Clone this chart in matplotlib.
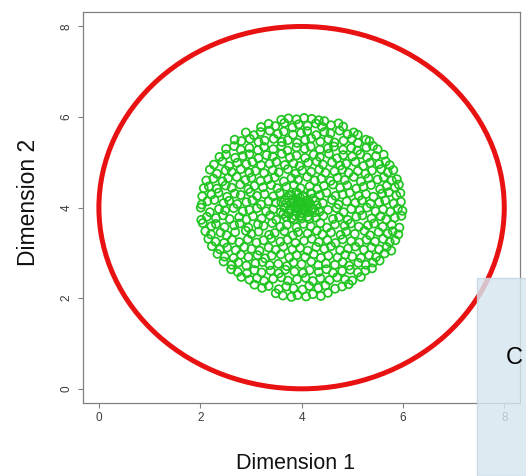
import matplotlib
matplotlib.use("Agg")
import matplotlib.pyplot as plt
from matplotlib.patches import Circle, Rectangle

# outer class: points lying on a circle
ring_center = (4.0, 4.0)
ring_radius = 4.0

# inner class: points filling a disc
green_pts = [
    (3.49, 2.11), (3.63, 2.06), (3.80, 2.03), (3.92, 2.07), (4.09, 2.04), (4.22, 2.09), (4.38, 2.05), (4.52, 2.12),
    (3.07, 2.30), (3.22, 2.23), (3.35, 2.27), (3.55, 2.20), (3.70, 2.26), (3.84, 2.22), (4.02, 2.19), (4.15, 2.27),
    (4.33, 2.23), (4.47, 2.28), (4.66, 2.21), (4.80, 2.26), (4.93, 2.31),
    (2.81, 2.47), (2.97, 2.41), (3.12, 2.44), (3.26, 2.38), (3.44, 2.43), (3.60, 2.46), (3.73, 2.39), (3.91, 2.42),
    (4.08, 2.45), (4.22, 2.38), (4.37, 2.44), (4.55, 2.40), (4.70, 2.46), (4.86, 2.41), (5.00, 2.39), (5.17, 2.47),
    (2.61, 2.64), (2.74, 2.58), (2.92, 2.55), (3.07, 2.62), (3.21, 2.57), (3.39, 2.61), (3.55, 2.55), (3.68, 2.63),
    (3.86, 2.59), (4.03, 2.56), (4.16, 2.62), (4.34, 2.58), (4.49, 2.64), (4.62, 2.56), (4.80, 2.60), (4.96, 2.63),
    (5.11, 2.57), (5.26, 2.61), (5.39, 2.66),
    (2.46, 2.81), (2.62, 2.74), (2.75, 2.79), (2.91, 2.72), (3.09, 2.77), (3.23, 2.80), (3.37, 2.73), (3.54, 2.76),
    (3.71, 2.71), (3.84, 2.79), (4.00, 2.75), (4.19, 2.81), (4.33, 2.73), (4.48, 2.77), (4.66, 2.74), (4.81, 2.80),
    (4.94, 2.72), (5.12, 2.78), (5.27, 2.74), (5.41, 2.79), (5.54, 2.83),
    (2.34, 2.98), (2.48, 2.92), (2.66, 2.89), (2.80, 2.96), (2.95, 2.91), (3.13, 2.95), (3.28, 2.88), (3.41, 2.94),
    (3.59, 2.97), (3.76, 2.90), (3.90, 2.95), (4.07, 2.91), (4.24, 2.97), (4.38, 2.89), (4.53, 2.94), (4.71, 2.90),
    (4.86, 2.96), (5.00, 2.92), (5.17, 2.89), (5.33, 2.95), (5.47, 2.91), (5.64, 2.99),
    (2.23, 3.15), (2.39, 3.08), (2.53, 3.12), (2.70, 3.06), (2.87, 3.13), (3.01, 3.09), (3.17, 3.05), (3.35, 3.12),
    (3.49, 3.07), (3.64, 3.14), (3.82, 3.08), (3.97, 3.11), (4.12, 3.05), (4.29, 3.13), (4.45, 3.09), (4.58, 3.15),
    (4.76, 3.06), (4.92, 3.10), (5.06, 3.14), (5.23, 3.07), (5.38, 3.12), (5.53, 3.08), (5.68, 3.13), (5.77, 3.05),
    (2.16, 3.31), (2.30, 3.25), (2.47, 3.22), (2.63, 3.29), (2.77, 3.24), (2.94, 3.30), (3.11, 3.23), (3.25, 3.28),
    (3.40, 3.32), (3.58, 3.25), (3.72, 3.29), (3.88, 3.22), (4.05, 3.27), (4.20, 3.31), (4.34, 3.24), (4.51, 3.28),
    (4.67, 3.22), (4.81, 3.30), (4.98, 3.26), (5.14, 3.23), (5.28, 3.29), (5.45, 3.25), (5.61, 3.31), (5.74, 3.24),
    (5.85, 3.28),
    (2.10, 3.48), (2.21, 3.41), (2.40, 3.45), (2.52, 3.39), (2.69, 3.46), (2.90, 3.49), (3.01, 3.42), (3.15, 3.47),
    (3.36, 3.40), (3.47, 3.44), (3.66, 3.48), (3.83, 3.39), (3.93, 3.46), (4.12, 3.43), (4.30, 3.49), (4.41, 3.41),
    (4.58, 3.45), (4.77, 3.40), (4.88, 3.47), (5.05, 3.42), (5.24, 3.49), (5.35, 3.39), (5.52, 3.46), (5.70, 3.43),
    (5.80, 3.48), (5.91, 3.41),
    (2.05, 3.66), (2.22, 3.59), (2.31, 3.64), (2.48, 3.57), (2.67, 3.61), (2.78, 3.65), (2.95, 3.56), (3.14, 3.63),
    (3.25, 3.60), (3.42, 3.66), (3.58, 3.58), (3.71, 3.62), (3.90, 3.57), (4.04, 3.64), (4.18, 3.59), (4.37, 3.66),
    (4.50, 3.56), (4.66, 3.63), (4.85, 3.60), (4.97, 3.65), (5.13, 3.58), (5.31, 3.61), (5.43, 3.65), (5.60, 3.58),
    (5.78, 3.62), (5.93, 3.56),
    (2.02, 3.73), (2.13, 3.80), (2.31, 3.77), (2.45, 3.83), (2.58, 3.75), (2.77, 3.79), (2.91, 3.74), (3.04, 3.81),
    (3.21, 3.76), (3.38, 3.83), (3.50, 3.73), (3.69, 3.80), (3.81, 3.77), (3.97, 3.82), (4.15, 3.75), (4.28, 3.78),
    (4.43, 3.82), (4.62, 3.75), (4.74, 3.79), (4.91, 3.73), (5.08, 3.80), (5.20, 3.83), (5.38, 3.76), (5.56, 3.81),
    (5.67, 3.74), (5.84, 3.78), (5.97, 3.82),
    (2.01, 4.00), (2.19, 3.90), (2.37, 3.97), (2.49, 3.94), (2.66, 3.99), (2.84, 3.92), (2.97, 3.95), (3.12, 3.99),
    (3.30, 3.92), (3.44, 3.96), (3.59, 3.90), (3.77, 3.97), (3.89, 4.00), (4.06, 3.93), (4.23, 3.98), (4.35, 3.91),
    (4.52, 3.95), (4.69, 3.99), (4.83, 3.90), (4.98, 3.97), (5.15, 3.94), (5.29, 4.00), (5.46, 3.92), (5.61, 3.96),
    (5.75, 3.91), (5.90, 3.98), (5.99, 3.93),
    (2.03, 4.07), (2.14, 4.14), (2.28, 4.17), (2.46, 4.10), (2.57, 4.15), (2.73, 4.08), (2.91, 4.12), (3.03, 4.16),
    (3.20, 4.07), (3.35, 4.14), (3.49, 4.11), (3.67, 4.17), (3.80, 4.09), (3.95, 4.13), (4.14, 4.08), (4.27, 4.15),
    (4.42, 4.10), (4.60, 4.17), (4.73, 4.07), (4.89, 4.14), (5.06, 4.11), (5.19, 4.16), (5.36, 4.09), (5.53, 4.12),
    (5.65, 4.16), (5.82, 4.09), (5.96, 4.13),
    (2.04, 4.25), (2.22, 4.29), (2.36, 4.33), (2.53, 4.24), (2.68, 4.31), (2.80, 4.28), (2.99, 4.34), (3.12, 4.26),
    (3.27, 4.30), (3.44, 4.25), (3.57, 4.32), (3.75, 4.27), (3.90, 4.34), (4.03, 4.24), (4.20, 4.31), (4.36, 4.28),
    (4.49, 4.33), (4.67, 4.26), (4.81, 4.29), (4.95, 4.33), (5.13, 4.26), (5.27, 4.30), (5.42, 4.24), (5.59, 4.31),
    (5.72, 4.34), (5.87, 4.27), (5.95, 4.32),
    (2.07, 4.43), (2.17, 4.47), (2.33, 4.42), (2.50, 4.49), (2.62, 4.44), (2.79, 4.51), (2.95, 4.41), (3.07, 4.48),
    (3.24, 4.45), (3.40, 4.50), (3.52, 4.43), (3.70, 4.46), (3.85, 4.50), (3.98, 4.43), (4.16, 4.47), (4.31, 4.41),
    (4.44, 4.48), (4.62, 4.51), (4.76, 4.44), (4.90, 4.49), (5.08, 4.42), (5.22, 4.46), (5.37, 4.50), (5.55, 4.41),
    (5.68, 4.48), (5.84, 4.45), (5.92, 4.51),
    (2.12, 4.60), (2.26, 4.64), (2.44, 4.58), (2.55, 4.65), (2.72, 4.68), (2.89, 4.61), (3.01, 4.66), (3.19, 4.59),
    (3.34, 4.63), (3.47, 4.67), (3.65, 4.58), (3.80, 4.65), (3.93, 4.62), (4.11, 4.68), (4.26, 4.60), (4.39, 4.64),
    (4.57, 4.59), (4.71, 4.66), (4.85, 4.61), (5.03, 4.68), (5.17, 4.58), (5.32, 4.65), (5.50, 4.62), (5.62, 4.67),
    (5.78, 4.60), (5.88, 4.63),
    (2.19, 4.84), (2.33, 4.75), (2.50, 4.82), (2.62, 4.79), (2.80, 4.85), (2.97, 4.77), (3.09, 4.81), (3.26, 4.76),
    (3.43, 4.83), (3.55, 4.78), (3.73, 4.85), (3.88, 4.75), (4.01, 4.82), (4.19, 4.79), (4.35, 4.84), (4.47, 4.77),
    (4.65, 4.80), (4.80, 4.84), (4.93, 4.77), (5.11, 4.81), (5.26, 4.75), (5.39, 4.82), (5.57, 4.85), (5.70, 4.78),
    (5.81, 4.83),
    (2.27, 4.95), (2.44, 5.02), (2.57, 4.92), (2.73, 4.99), (2.91, 4.96), (3.03, 5.01), (3.20, 4.94), (3.37, 4.97),
    (3.50, 5.01), (3.67, 4.94), (3.84, 4.98), (3.96, 4.92), (4.13, 4.99), (4.30, 5.02), (4.42, 4.95), (4.60, 5.00),
    (4.76, 4.93), (4.88, 4.97), (5.06, 5.01), (5.22, 4.92), (5.35, 4.99), (5.53, 4.96), (5.66, 5.02), (5.74, 4.94),
    (2.38, 5.12), (2.51, 5.17), (2.69, 5.10), (2.84, 5.14), (2.97, 5.18), (3.15, 5.09), (3.31, 5.16), (3.43, 5.13),
    (3.61, 5.19), (3.77, 5.11), (3.90, 5.15), (4.07, 5.10), (4.24, 5.17), (4.36, 5.12), (4.54, 5.19), (4.70, 5.09),
    (4.82, 5.16), (5.00, 5.13), (5.16, 5.18), (5.29, 5.11), (5.47, 5.14), (5.62, 5.17),
    (2.51, 5.30), (2.67, 5.36), (2.80, 5.28), (2.97, 5.32), (3.14, 5.27), (3.26, 5.34), (3.44, 5.29), (3.60, 5.36),
    (3.72, 5.26), (3.90, 5.33), (4.06, 5.30), (4.18, 5.35), (4.36, 5.28), (4.52, 5.31), (4.64, 5.35), (4.82, 5.28),
    (4.98, 5.32), (5.10, 5.26), (5.28, 5.33), (5.41, 5.36), (5.50, 5.29),
    (2.68, 5.50), (2.81, 5.47), (2.98, 5.52), (3.15, 5.45), (3.27, 5.48), (3.45, 5.52), (3.61, 5.45), (3.73, 5.49),
    (3.91, 5.43), (4.07, 5.50), (4.19, 5.53), (4.37, 5.46), (4.53, 5.51), (4.65, 5.44), (4.83, 5.48), (4.99, 5.52),
    (5.11, 5.43), (5.27, 5.50), (5.34, 5.47),
    (2.90, 5.66), (3.06, 5.60), (3.19, 5.67), (3.37, 5.70), (3.53, 5.63), (3.65, 5.68), (3.83, 5.61), (3.99, 5.65),
    (4.11, 5.69), (4.29, 5.60), (4.45, 5.67), (4.57, 5.64), (4.75, 5.70), (4.91, 5.62), (5.03, 5.66), (5.11, 5.61),
    (3.20, 5.78), (3.35, 5.85), (3.48, 5.80), (3.66, 5.87), (3.82, 5.77), (3.94, 5.84), (4.12, 5.81), (4.28, 5.86),
    (4.40, 5.79), (4.58, 5.82), (4.73, 5.86), (4.82, 5.79),
    (3.60, 5.94), (3.74, 5.97), (3.90, 5.95), (4.05, 5.98), (4.20, 5.96), (4.34, 5.93), (4.45, 5.91),
    # dense knot around the centre
    (3.70, 4.10), (3.78, 3.98), (3.82, 4.18), (3.86, 4.05), (3.90, 3.92), (3.92, 4.12), (3.95, 4.00), (3.97, 4.22),
    (4.00, 3.88), (4.02, 4.08), (4.05, 3.97), (4.08, 4.15), (4.10, 4.02), (4.13, 3.90), (4.16, 4.10), (4.20, 3.98),
    (3.74, 3.88), (3.80, 4.28), (3.88, 3.82), (3.93, 4.30), (4.03, 4.26), (4.12, 3.80), (4.22, 4.20), (4.26, 3.90),
    (3.66, 4.00), (3.72, 4.22), (3.60, 4.12), (3.64, 3.86), (3.85, 3.74), (4.00, 3.76), (4.18, 4.32), (4.30, 4.05),
    (3.98, 4.12), (3.89, 4.00), (4.06, 4.04), (3.94, 3.96), (4.01, 3.94), (3.84, 4.12), (4.12, 4.06), (3.96, 4.08),
]

ticks = [0, 2, 4, 6, 8]
x_label = "Dimension 1"
y_label = "Dimension 2"
overlay_text = "C"


def plot():
    fig = plt.figure(figsize=(5.26, 4.76), dpi=100)
    ax = fig.add_axes([0.1572, 0.1527, 0.8323, 0.8221])

    gx = [p[0] for p in green_pts]
    gy = [p[1] for p in green_pts]
    ax.scatter(gx, gy, s=34, facecolors='none', edgecolors='#22c422', linewidths=1.25)

    ax.add_patch(Circle(ring_center, ring_radius, fill=False, edgecolor='#e81212', linewidth=3.6))

    ax.set_xlim(-0.32, 8.32)
    ax.set_ylim(-0.32, 8.32)
    ax.set_xticks(ticks)
    ax.set_yticks(ticks)
    for s in ax.spines.values():
        s.set_color('#808080')
        s.set_linewidth(0.9)
    ax.tick_params(length=3.8, width=0.8, color='#808080', labelcolor='#3a3a3a', labelsize=8.5)
    ax.tick_params(axis='x', pad=2.5)
    ax.tick_params(axis='y', pad=3.5)
    for lab in ax.get_xticklabels() + ax.get_yticklabels():
        lab.set_family('Liberation Sans')
    plt.setp(ax.get_yticklabels(), rotation=90, va='center')

    fig.text(295 / 526, 1 - 469 / 476, x_label, ha='center', va='baseline',
             fontsize=15.5, family='Liberation Sans', color='#111111')
    fig.text(35 / 526, 1 - 202 / 476, y_label, ha='center', va='baseline', rotation=90,
             rotation_mode='anchor', fontsize=16.5, family='Liberation Sans', color='#111111')

    # translucent panel over the bottom-right corner
    fig.add_artist(Rectangle((477 / 526, 0), 0.2, 1 - 278 / 476, transform=fig.transFigure,
                             facecolor='#d6e6f0', edgecolor='#c4d6e2', linewidth=1, alpha=0.82, zorder=5))
    fig.text(506 / 526, 1 - 358 / 476, overlay_text, ha='left', va='center',
             fontsize=17, family='Liberation Sans', color='black', zorder=6)

    fig.savefig('out.png', dpi=100)


if __name__ == '__main__':
    plot()
